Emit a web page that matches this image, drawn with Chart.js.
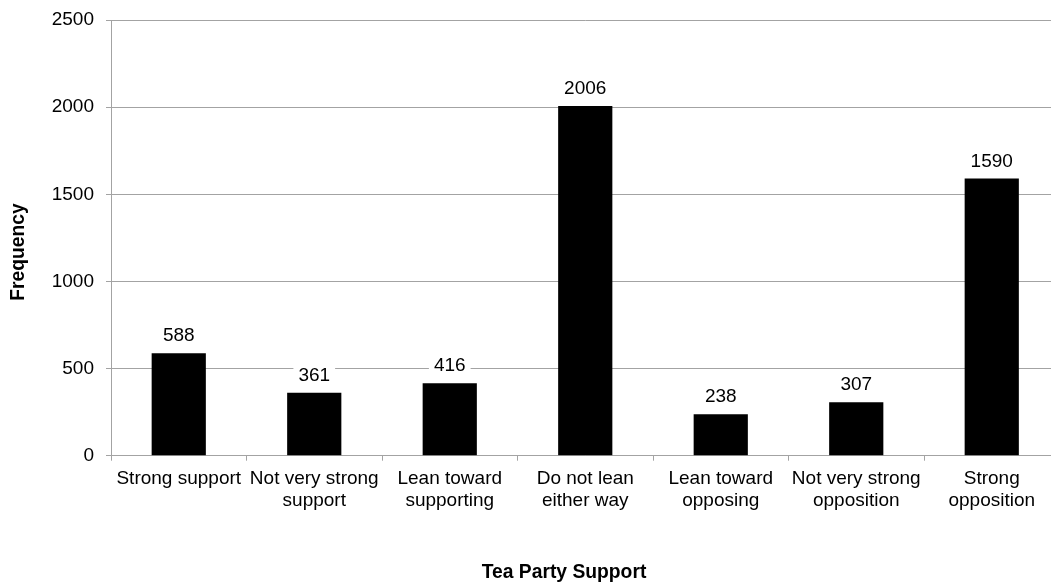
<!DOCTYPE html>
<html>
<head>
<meta charset="utf-8">
<script src="https://cdn.jsdelivr.net/npm/chart.js@4"></script>
<style>
  html, body { margin: 0; padding: 0; background: #fff; overflow: hidden; }
  .wrap { position: relative; width: 1070px; height: 586px; }
</style>
</head>
<body>
<div class="wrap"><canvas id="myChart"></canvas></div>
<script>
// --------------------------------------------------
const categories = [
  ["Strong support"],
  ["Not very strong", "support"],
  ["Lean toward", "supporting"],
  ["Do not lean", "either way"],
  ["Lean toward", "opposing"],
  ["Not very strong", "opposition"],
  ["Strong", "opposition"],
];
const frequency = [588, 361, 416, 2006, 238, 307, 1590];
const yTicks = [0, 500, 1000, 1500, 2000, 2500];
const xTitle = "Tea Party Support";
const yTitle = "Frequency";

const FONT = "'Liberation Sans', Arial, sans-serif";
const GRID = "#a3a3a3";

// value labels with a white box behind them, plus the two axis titles
const labelsPlugin = {
  id: "valueLabels",
  afterDatasetsDraw(chart) {
    const ctx = chart.ctx;
    const meta = chart.getDatasetMeta(0);
    ctx.save();
    ctx.font = "19px " + FONT;
    ctx.textAlign = "center";
    ctx.textBaseline = "alphabetic";
    meta.data.forEach((bar, i) => {
      const txt = String(frequency[i]);
      const w = ctx.measureText(txt).width;
      const base = bar.y - 12;
      ctx.fillStyle = "#fff";
      ctx.fillRect(bar.x - w / 2 - 5, base - 18, w + 10, 24);
      ctx.fillStyle = "#000";
      ctx.fillText(txt, bar.x, base);
    });
    ctx.restore();
  },
  afterDraw(chart) {
    const ctx = chart.ctx;
    ctx.save();
    ctx.font = "bold 19.3px " + FONT;
    ctx.fillStyle = "#000";
    ctx.textAlign = "center";
    ctx.textBaseline = "middle";
    ctx.fillText(xTitle, 564, 573);
    ctx.translate(19, 252);
    ctx.rotate(-Math.PI / 2);
    ctx.fillText(yTitle, 0, 0);
    ctx.restore();
  },
};

var ctx = document.getElementById("myChart").getContext("2d");
var myChart = new Chart(ctx, {
  type: "bar",
  data: {
    labels: categories,
    datasets: [
      {
        label: yTitle,
        data: frequency,
        backgroundColor: "#000",
        borderWidth: 0,
        barPercentage: 0.4,
        categoryPercentage: 1,
      },
    ],
  },
  options: {
    responsive: true,
    maintainAspectRatio: false,
    animation: false,
    layout: {
      padding: { top: 20, right: 10.5, bottom: 0, left: 0 },
    },
    plugins: {
      legend: { display: false },
      tooltip: { enabled: false },
    },
    scales: {
      x: {
        grid: {
          display: true,
          drawOnChartArea: false,
          drawTicks: true,
          tickLength: 5,
          color: GRID,
          offset: true,
        },
        border: { color: GRID },
        ticks: {
          color: "#000",
          padding: 7,
          maxRotation: 0,
          autoSkip: false,
          font: { family: FONT, size: 19, lineHeight: 1.16 },
        },
        afterFit: (scale) => {
          scale.height = 130.3;
        },
      },
      y: {
        min: yTicks[0],
        max: yTicks[yTicks.length - 1],
        grid: {
          color: GRID,
          tickLength: 5,
        },
        border: { color: GRID },
        ticks: {
          stepSize: yTicks[1] - yTicks[0],
          color: "#000",
          padding: 12,
          font: { family: FONT, size: 19 },
          callback: (v) => String(v),
        },
        afterFit: (scale) => {
          scale.width = 111;
          scale.paddingTop = 0;
          scale.paddingBottom = 0;
        },
      },
    },
  },
  plugins: [labelsPlugin],
});
</script>
</body>
</html>
